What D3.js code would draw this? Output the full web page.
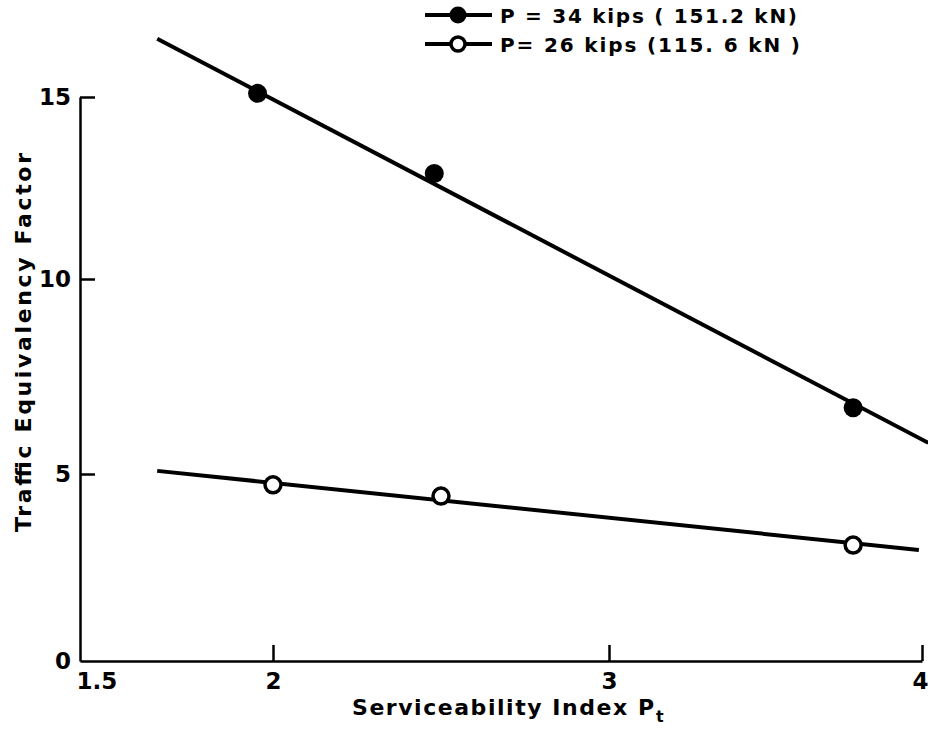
<!DOCTYPE html>
<html>
<head>
<meta charset="utf-8">
<script src="https://cdn.jsdelivr.net/npm/d3@7"></script>
<style>
  body { margin: 0; background: #fff; }
  svg { display: block; font-family: "DejaVu Sans", sans-serif; font-weight: bold; }
  .axis path, .axis line { stroke: #000; stroke-width: 2.5; }
</style>
</head>
<body>
<div id="chart"></div>
<script>
/* Traffic equivalency factor vs terminal serviceability */

const width = 928, height = 732;

// tick values
const xTicks = [1.5, 2, 3, 4];
const yTicks = [0, 5, 10, 15];

// measured points, P = 34 kips
const heavyPts = [[1.96, 15.1], [2.48, 12.9], [3.78, 6.7]];
// fitted line ends, P = 34 kips
const heavyFit = [[1.70, 16.6], [4.02, 5.8]];

// measured points, P = 26 kips
const lightPts = [[2.0, 4.71], [2.5, 4.41], [3.78, 3.1]];
// fitted line ends, P = 26 kips
const lightFit = [[1.70, 5.08], [3.99, 2.97]];

const legendLabels = ["P = 34  kips ( 151.2  kN)", "P= 26  kips (115. 6  kN )"];

const svg = d3.select("#chart")
  .append("svg")
  .attr("width", width)
  .attr("height", height)
  .attr("viewBox", [0, 0, width, height]);

// the scanned axes are not evenly spaced, so the scales are piecewise
let x = d3.scaleLinear()
  .domain(xTicks)
  .range([80, 273, 609, 922]);

let y = d3.scaleLinear()
  .domain(yTicks)
  .range([661, 474, 279, 97]);

const xAxis = svg.append("g")
  .attr("class", "axis")
  .attr("transform", `translate(0,${y(0)})`)
  .call(d3.axisBottom(x)
    .tickValues(xTicks)
    .tickFormat(d => d)
    .tickSizeInner(-16)
    .tickSizeOuter(0)
    .tickPadding(12));

xAxis.selectAll(".tick")
  .filter(d => d === 1.5)
  .select("line").remove();
xAxis.selectAll(".tick text")
  .filter(d => d === 1.5)
  .attr("text-anchor", "start")
  .attr("dx", "-4");
xAxis.selectAll(".tick text")
  .filter(d => d === 4)
  .attr("text-anchor", "end")
  .attr("dx", "6");

const yAxis = svg.append("g")
  .attr("class", "axis")
  .attr("transform", `translate(${x(1.5)},0)`)
  .call(d3.axisLeft(y)
    .tickValues(yTicks)
    .tickSizeInner(-15)
    .tickSizeOuter(0)
    .tickPadding(9));

yAxis.selectAll(".tick")
  .filter(d => d === 0)
  .select("line").remove();

svg.selectAll(".axis text")
  .style("font-size", "23px")
  .style("font-weight", "bold")
  .style("font-family", "DejaVu Sans, sans-serif")
  .attr("fill", "#000");

svg.append("text")
  .attr("x", 352)
  .attr("y", 715)
  .attr("textLength", 302)
  .attr("lengthAdjust", "spacing")
  .style("font-size", "22px")
  .text("Serviceability  Index  P");

svg.append("text")
  .attr("x", 656)
  .attr("y", 722)
  .style("font-size", "16px")
  .text("t");

svg.append("text")
  .attr("transform", "rotate(-90)")
  .attr("x", -532)
  .attr("y", 31)
  .attr("textLength", 379)
  .attr("lengthAdjust", "spacing")
  .style("font-size", "22px")
  .text("Traffic  Equivalency  Factor");

let line = d3.line()
  .x(d => x(d[0]))
  .y(d => y(d[1]));

// fitted lines
svg.append("path")
  .datum(heavyFit)
  .attr("d", line)
  .attr("fill", "none")
  .attr("stroke", "#000")
  .attr("stroke-width", 4);

svg.append("path")
  .datum(lightFit)
  .attr("d", line)
  .attr("fill", "none")
  .attr("stroke", "#000")
  .attr("stroke-width", 4);

// points
svg.selectAll(".heavy")
  .data(heavyPts)
  .join("circle")
  .attr("class", "heavy")
  .attr("cx", d => x(d[0]))
  .attr("cy", d => y(d[1]))
  .attr("r", 9.5)
  .attr("fill", "#000");

svg.selectAll(".light")
  .data(lightPts)
  .join("circle")
  .attr("class", "light")
  .attr("cx", d => x(d[0]))
  .attr("cy", d => y(d[1]))
  .attr("r", 8)
  .attr("fill", "#fff")
  .attr("stroke", "#000")
  .attr("stroke-width", 3.5);

// legend
const legend = svg.append("g");
const rows = legend.selectAll("g")
  .data(legendLabels)
  .join("g")
  .attr("transform", (d, i) => `translate(425,${15 + i * 29})`);

rows.append("line")
  .attr("x1", 0)
  .attr("x2", 67)
  .attr("stroke", "#000")
  .attr("stroke-width", 4);

rows.append("circle")
  .attr("cx", 33)
  .attr("r", (d, i) => i === 0 ? 8.5 : 7)
  .attr("fill", (d, i) => i === 0 ? "#000" : "#fff")
  .attr("stroke", "#000")
  .attr("stroke-width", (d, i) => i === 0 ? 0 : 3.5);

rows.append("text")
  .attr("x", 75)
  .attr("y", 8)
  .attr("textLength", (d, i) => i === 0 ? 297 : 300)
  .attr("lengthAdjust", "spacing")
  .style("font-size", "20px")
  .text(d => d);
</script>
</body>
</html>
